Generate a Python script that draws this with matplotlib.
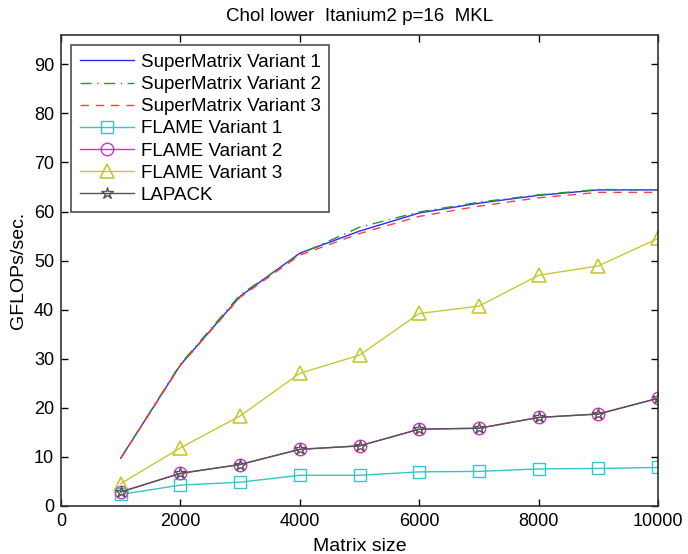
import matplotlib
matplotlib.use("Agg")
import matplotlib.pyplot as plt

plt.rcParams['font.family'] = ['Liberation Sans', 'DejaVu Sans']

sizes = [1000, 2000, 3000, 4000, 5000, 6000, 7000, 8000, 9000, 10000]
sm_v1 = [9.7, 28.7, 42.7, 51.5, 56.0, 59.7, 61.7, 63.3, 64.4, 64.4]
sm_v2 = [9.7, 28.9, 43.0, 51.3, 56.8, 59.9, 61.9, 63.4, 64.5, 64.4]
sm_v3 = [9.6, 28.6, 42.5, 51.1, 55.5, 59.0, 61.1, 62.8, 63.9, 63.9]
flame_v1 = [2.3, 4.2, 4.8, 6.2, 6.2, 6.9, 7.0, 7.5, 7.6, 7.8]
flame_v2 = [2.8, 6.6, 8.4, 11.5, 12.2, 15.6, 15.8, 18.0, 18.7, 21.9]
flame_v3 = [4.5, 11.8, 18.3, 27.0, 30.7, 39.2, 40.7, 47.0, 48.9, 54.5]
lapack = [2.8, 6.6, 8.4, 11.5, 12.2, 15.6, 15.8, 18.0, 18.7, 21.9]

labels = ["SuperMatrix Variant 1", "SuperMatrix Variant 2", "SuperMatrix Variant 3",
          "FLAME Variant 1", "FLAME Variant 2", "FLAME Variant 3", "LAPACK"]
xticks = [0, 2000, 4000, 6000, 8000, 10000]
yticks = [0, 10, 20, 30, 40, 50, 60, 70, 80, 90]

fig = plt.figure(figsize=(6.88, 5.54), dpi=100)
ax = fig.add_axes([61/688, 1-505.7/554, (658-61)/688, (505.7-35)/554])

lw = 1.0
ax.plot(sizes, sm_v1, '-', color='#2a2aff', lw=lw, label=labels[0])
ax.plot(sizes, sm_v2, '-.', color='#2a952a', lw=lw, label=labels[1], dashes=[8, 4, 1, 4])
ax.plot(sizes, sm_v3, '--', color='#ff4040', lw=lw, label=labels[2], dashes=[6, 5])
ax.plot(sizes, flame_v1, '-s', color='#30c8c8', lw=lw, ms=8, mfc='none', mew=1.0, label=labels[3])
ax.plot(sizes, flame_v2, '-o', color='#cc33cc', lw=lw, ms=9, mfc='none', mew=1.0, label=labels[4])
ax.plot(sizes, flame_v3, '-^', color='#c8c832', lw=lw, ms=10, mfc='none', mew=1.2, label=labels[5])
ax.plot(sizes, lapack, '-*', color='#555555', lw=lw, ms=9, mfc='none', mew=1.0, label=labels[6])

ax.set_xlim(0, 10000)
ax.set_ylim(0, 96)
ax.set_xticks(xticks)
ax.set_yticks(yticks)
ax.tick_params(direction='in', top=True, right=True, length=5, labelsize=13, width=1, pad=5)
for s in ax.spines.values():
    s.set_linewidth(1.2)
    s.set_color('#333333')
ax.set_xlabel("Matrix size", fontsize=14, labelpad=6)
ax.set_ylabel("GFLOPs/sec.", fontsize=14, labelpad=5)
ax.set_title("Chol lower  Itanium2 p=16  MKL", fontsize=13.5, pad=10)

leg = ax.legend(loc='upper left', fontsize=13.5, frameon=True, fancybox=False,
                handlelength=2.9, borderaxespad=0.55, labelspacing=0.27,
                borderpad=0.45, handletextpad=0.35)
leg.get_frame().set_edgecolor('#222222')
leg.get_frame().set_linewidth(1.2)

fig.savefig("out.png", dpi=100)
